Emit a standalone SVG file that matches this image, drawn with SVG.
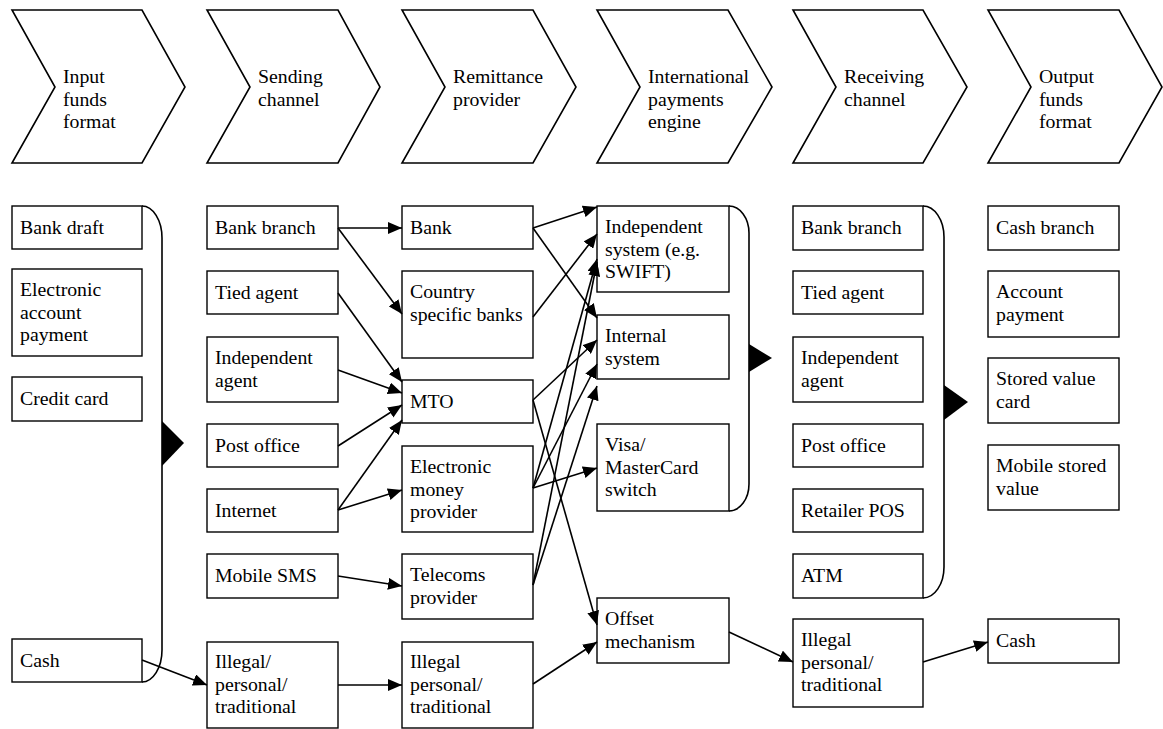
<svg xmlns="http://www.w3.org/2000/svg" width="1163" height="729" viewBox="0 0 1163 729" font-family="'Liberation Serif', 'Times New Roman', 'DejaVu Serif', serif" font-size="19.8">
<style>
.chev{fill:#fff;stroke:#000;stroke-width:1.6;stroke-linejoin:miter}
.box{fill:#fff;stroke:#000;stroke-width:1.4}
.br{fill:none;stroke:#000;stroke-width:1.6}
.tri{fill:#000}
text{font-family:'Liberation Serif','Times New Roman','DejaVu Serif',serif;font-size:19.8px;fill:#000}
.e{fill:none;stroke:#000;stroke-width:1.6;marker-end:url(#ah)}
</style>
<defs>
<marker id="ah" markerUnits="userSpaceOnUse" markerWidth="15" markerHeight="12" refX="14" refY="6" orient="auto">
<path d="M0,0 L14,6 L0,12 z" fill="#000"/>
</marker>
</defs>
<rect width="1163" height="729" fill="#fff"/>

<g id="stages">
<g id="stage-input"><polygon class="chev" points="12,10 142,10 185,87 142,163 12,163 55,87"/><text x="63" y="83">Input</text><text x="63" y="105.5">funds</text><text x="63" y="128">format</text></g>
<g id="stage-sending"><polygon class="chev" points="207,10 338,10 380,87 338,163 207,163 250,87"/><text x="258" y="83">Sending</text><text x="258" y="105.5">channel</text></g>
<g id="stage-remittance"><polygon class="chev" points="402,10 533,10 576,87 533,163 402,163 445,87"/><text x="453" y="83">Remittance</text><text x="453" y="105.5">provider</text></g>
<g id="stage-international"><polygon class="chev" points="597,10 728,10 772,87 728,163 597,163 640,87"/><text x="648" y="83">International</text><text x="648" y="105.5">payments</text><text x="648" y="128">engine</text></g>
<g id="stage-receiving"><polygon class="chev" points="793,10 923,10 967,87 923,163 793,163 836,87"/><text x="844" y="83">Receiving</text><text x="844" y="105.5">channel</text></g>
<g id="stage-output"><polygon class="chev" points="988,10 1119,10 1162,87 1119,163 988,163 1031,87"/><text x="1039" y="83">Output</text><text x="1039" y="105.5">funds</text><text x="1039" y="128">format</text></g>
</g>

<g id="brackets">
<path class="br" d="M142,206 A20,32 0 0 1 162,238 L162,650 A20,32 0 0 1 142,682"/>
<polygon class="tri" points="162,421 184,443 162,466"/>
<path class="br" d="M729,206 A20,27 0 0 1 749,233 L749,484 A20,27 0 0 1 729,511"/>
<polygon class="tri" points="749,344 772,358 749,372"/>
<path class="br" d="M923,206 A21,31 0 0 1 944,237 L944,567 A21,31 0 0 1 923,598"/>
<polygon class="tri" points="944,385 968,402 944,420"/>
</g>

<g id="n-bank-draft"><rect class="box" x="12" y="206" width="130" height="43"/><text x="20" y="234">Bank draft</text></g>
<g id="n-electronic-account"><rect class="box" x="12" y="269" width="130" height="87"/><text x="20" y="296">Electronic</text><text x="20" y="318.5">account</text><text x="20" y="341">payment</text></g>
<g id="n-credit-card"><rect class="box" x="12" y="377" width="130" height="44"/><text x="20" y="405">Credit card</text></g>
<g id="n-cash-in"><rect class="box" x="12" y="639" width="130" height="43"/><text x="20" y="667">Cash</text></g>

<g id="n-bank-branch-s"><rect class="box" x="207" y="206" width="131" height="43"/><text x="215" y="234">Bank branch</text></g>
<g id="n-tied-agent-s"><rect class="box" x="207" y="271" width="131" height="43"/><text x="215" y="299">Tied agent</text></g>
<g id="n-indep-agent-s"><rect class="box" x="207" y="337" width="131" height="65"/><text x="215" y="364">Independent</text><text x="215" y="386.5">agent</text></g>
<g id="n-post-office-s"><rect class="box" x="207" y="424" width="131" height="43"/><text x="215" y="452">Post office</text></g>
<g id="n-internet"><rect class="box" x="207" y="489" width="131" height="43"/><text x="215" y="517">Internet</text></g>
<g id="n-mobile-sms"><rect class="box" x="207" y="554" width="131" height="44"/><text x="215" y="582">Mobile SMS</text></g>
<g id="n-illegal-s"><rect class="box" x="207" y="642" width="131" height="86"/><text x="215" y="668">Illegal/</text><text x="215" y="690.5">personal/</text><text x="215" y="713">traditional</text></g>

<g id="n-bank"><rect class="box" x="402" y="206" width="131" height="43"/><text x="410" y="234">Bank</text></g>
<g id="n-country-banks"><rect class="box" x="402" y="271" width="131" height="87"/><text x="410" y="298">Country</text><text x="410" y="320.5">specific banks</text></g>
<g id="n-mto"><rect class="box" x="402" y="380" width="131" height="43"/><text x="410" y="408">MTO</text></g>
<g id="n-emp"><rect class="box" x="402" y="446" width="131" height="86"/><text x="410" y="473">Electronic</text><text x="410" y="495.5">money</text><text x="410" y="518">provider</text></g>
<g id="n-telecoms"><rect class="box" x="402" y="554" width="131" height="65"/><text x="410" y="581">Telecoms</text><text x="410" y="603.5">provider</text></g>
<g id="n-illegal-r"><rect class="box" x="402" y="642" width="131" height="86"/><text x="410" y="668">Illegal</text><text x="410" y="690.5">personal/</text><text x="410" y="713">traditional</text></g>

<g id="n-indep-system"><rect class="box" x="597" y="206" width="132" height="86"/><text x="605" y="233">Independent</text><text x="605" y="255.5">system (e.g.</text><text x="605" y="278">SWIFT)</text></g>
<g id="n-internal-system"><rect class="box" x="597" y="315" width="132" height="64"/><text x="605" y="342">Internal</text><text x="605" y="364.5">system</text></g>
<g id="n-visa"><rect class="box" x="597" y="424" width="132" height="87"/><text x="605" y="451">Visa/</text><text x="605" y="473.5">MasterCard</text><text x="605" y="496">switch</text></g>
<g id="n-offset"><rect class="box" x="597" y="598" width="132" height="65"/><text x="605" y="625">Offset</text><text x="605" y="647.5">mechanism</text></g>

<g id="n-bank-branch-r"><rect class="box" x="793" y="206" width="130" height="44"/><text x="801" y="234">Bank branch</text></g>
<g id="n-tied-agent-r"><rect class="box" x="793" y="271" width="130" height="43"/><text x="801" y="299">Tied agent</text></g>
<g id="n-indep-agent-r"><rect class="box" x="793" y="337" width="130" height="65"/><text x="801" y="364">Independent</text><text x="801" y="386.5">agent</text></g>
<g id="n-post-office-r"><rect class="box" x="793" y="424" width="130" height="43"/><text x="801" y="452">Post office</text></g>
<g id="n-retailer-pos"><rect class="box" x="793" y="489" width="130" height="43"/><text x="801" y="517">Retailer POS</text></g>
<g id="n-atm"><rect class="box" x="793" y="554" width="130" height="44"/><text x="801" y="582">ATM</text></g>
<g id="n-illegal-rc"><rect class="box" x="793" y="619" width="130" height="88"/><text x="801" y="646">Illegal</text><text x="801" y="668.5">personal/</text><text x="801" y="691">traditional</text></g>

<g id="n-cash-branch"><rect class="box" x="988" y="206" width="131" height="44"/><text x="996" y="234">Cash branch</text></g>
<g id="n-account-payment"><rect class="box" x="988" y="271" width="131" height="66"/><text x="996" y="298">Account</text><text x="996" y="320.5">payment</text></g>
<g id="n-stored-value"><rect class="box" x="988" y="358" width="131" height="65"/><text x="996" y="385">Stored value</text><text x="996" y="407.5">card</text></g>
<g id="n-mobile-stored"><rect class="box" x="988" y="445" width="131" height="65"/><text x="996" y="472">Mobile stored</text><text x="996" y="494.5">value</text></g>
<g id="n-cash-out"><rect class="box" x="988" y="619" width="131" height="44"/><text x="996" y="647">Cash</text></g>

<g id="connectors">
<line class="e" x1="142" y1="660" x2="207" y2="685"/>
<line class="e" x1="338" y1="685" x2="402" y2="685"/>
<line class="e" x1="338" y1="228" x2="402" y2="228"/>
<line class="e" x1="338" y1="228" x2="402" y2="314"/>
<line class="e" x1="338" y1="293" x2="402" y2="382"/>
<line class="e" x1="338" y1="370" x2="402" y2="393"/>
<line class="e" x1="338" y1="446" x2="402" y2="405"/>
<line class="e" x1="338" y1="510" x2="402" y2="420"/>
<line class="e" x1="338" y1="510" x2="402" y2="490"/>
<line class="e" x1="338" y1="576" x2="402" y2="586"/>
<line class="e" x1="533" y1="228" x2="597" y2="207"/>
<line class="e" x1="533" y1="228" x2="597" y2="318"/>
<line class="e" x1="533" y1="317" x2="597" y2="234"/>
<line class="e" x1="533" y1="400" x2="597" y2="340"/>
<line class="e" x1="533" y1="400" x2="597" y2="625"/>
<line class="e" x1="533" y1="488" x2="597" y2="468"/>
<line class="e" x1="533" y1="488" x2="597" y2="364"/>
<line class="e" x1="533" y1="488" x2="597" y2="259"/>
<line class="e" x1="533" y1="585" x2="597" y2="262"/>
<line class="e" x1="533" y1="585" x2="597" y2="386"/>
<line class="e" x1="533" y1="684" x2="597" y2="642"/>
<line class="e" x1="729" y1="632" x2="793" y2="662"/>
<line class="e" x1="923" y1="662" x2="988" y2="642"/>
</g>
</svg>
